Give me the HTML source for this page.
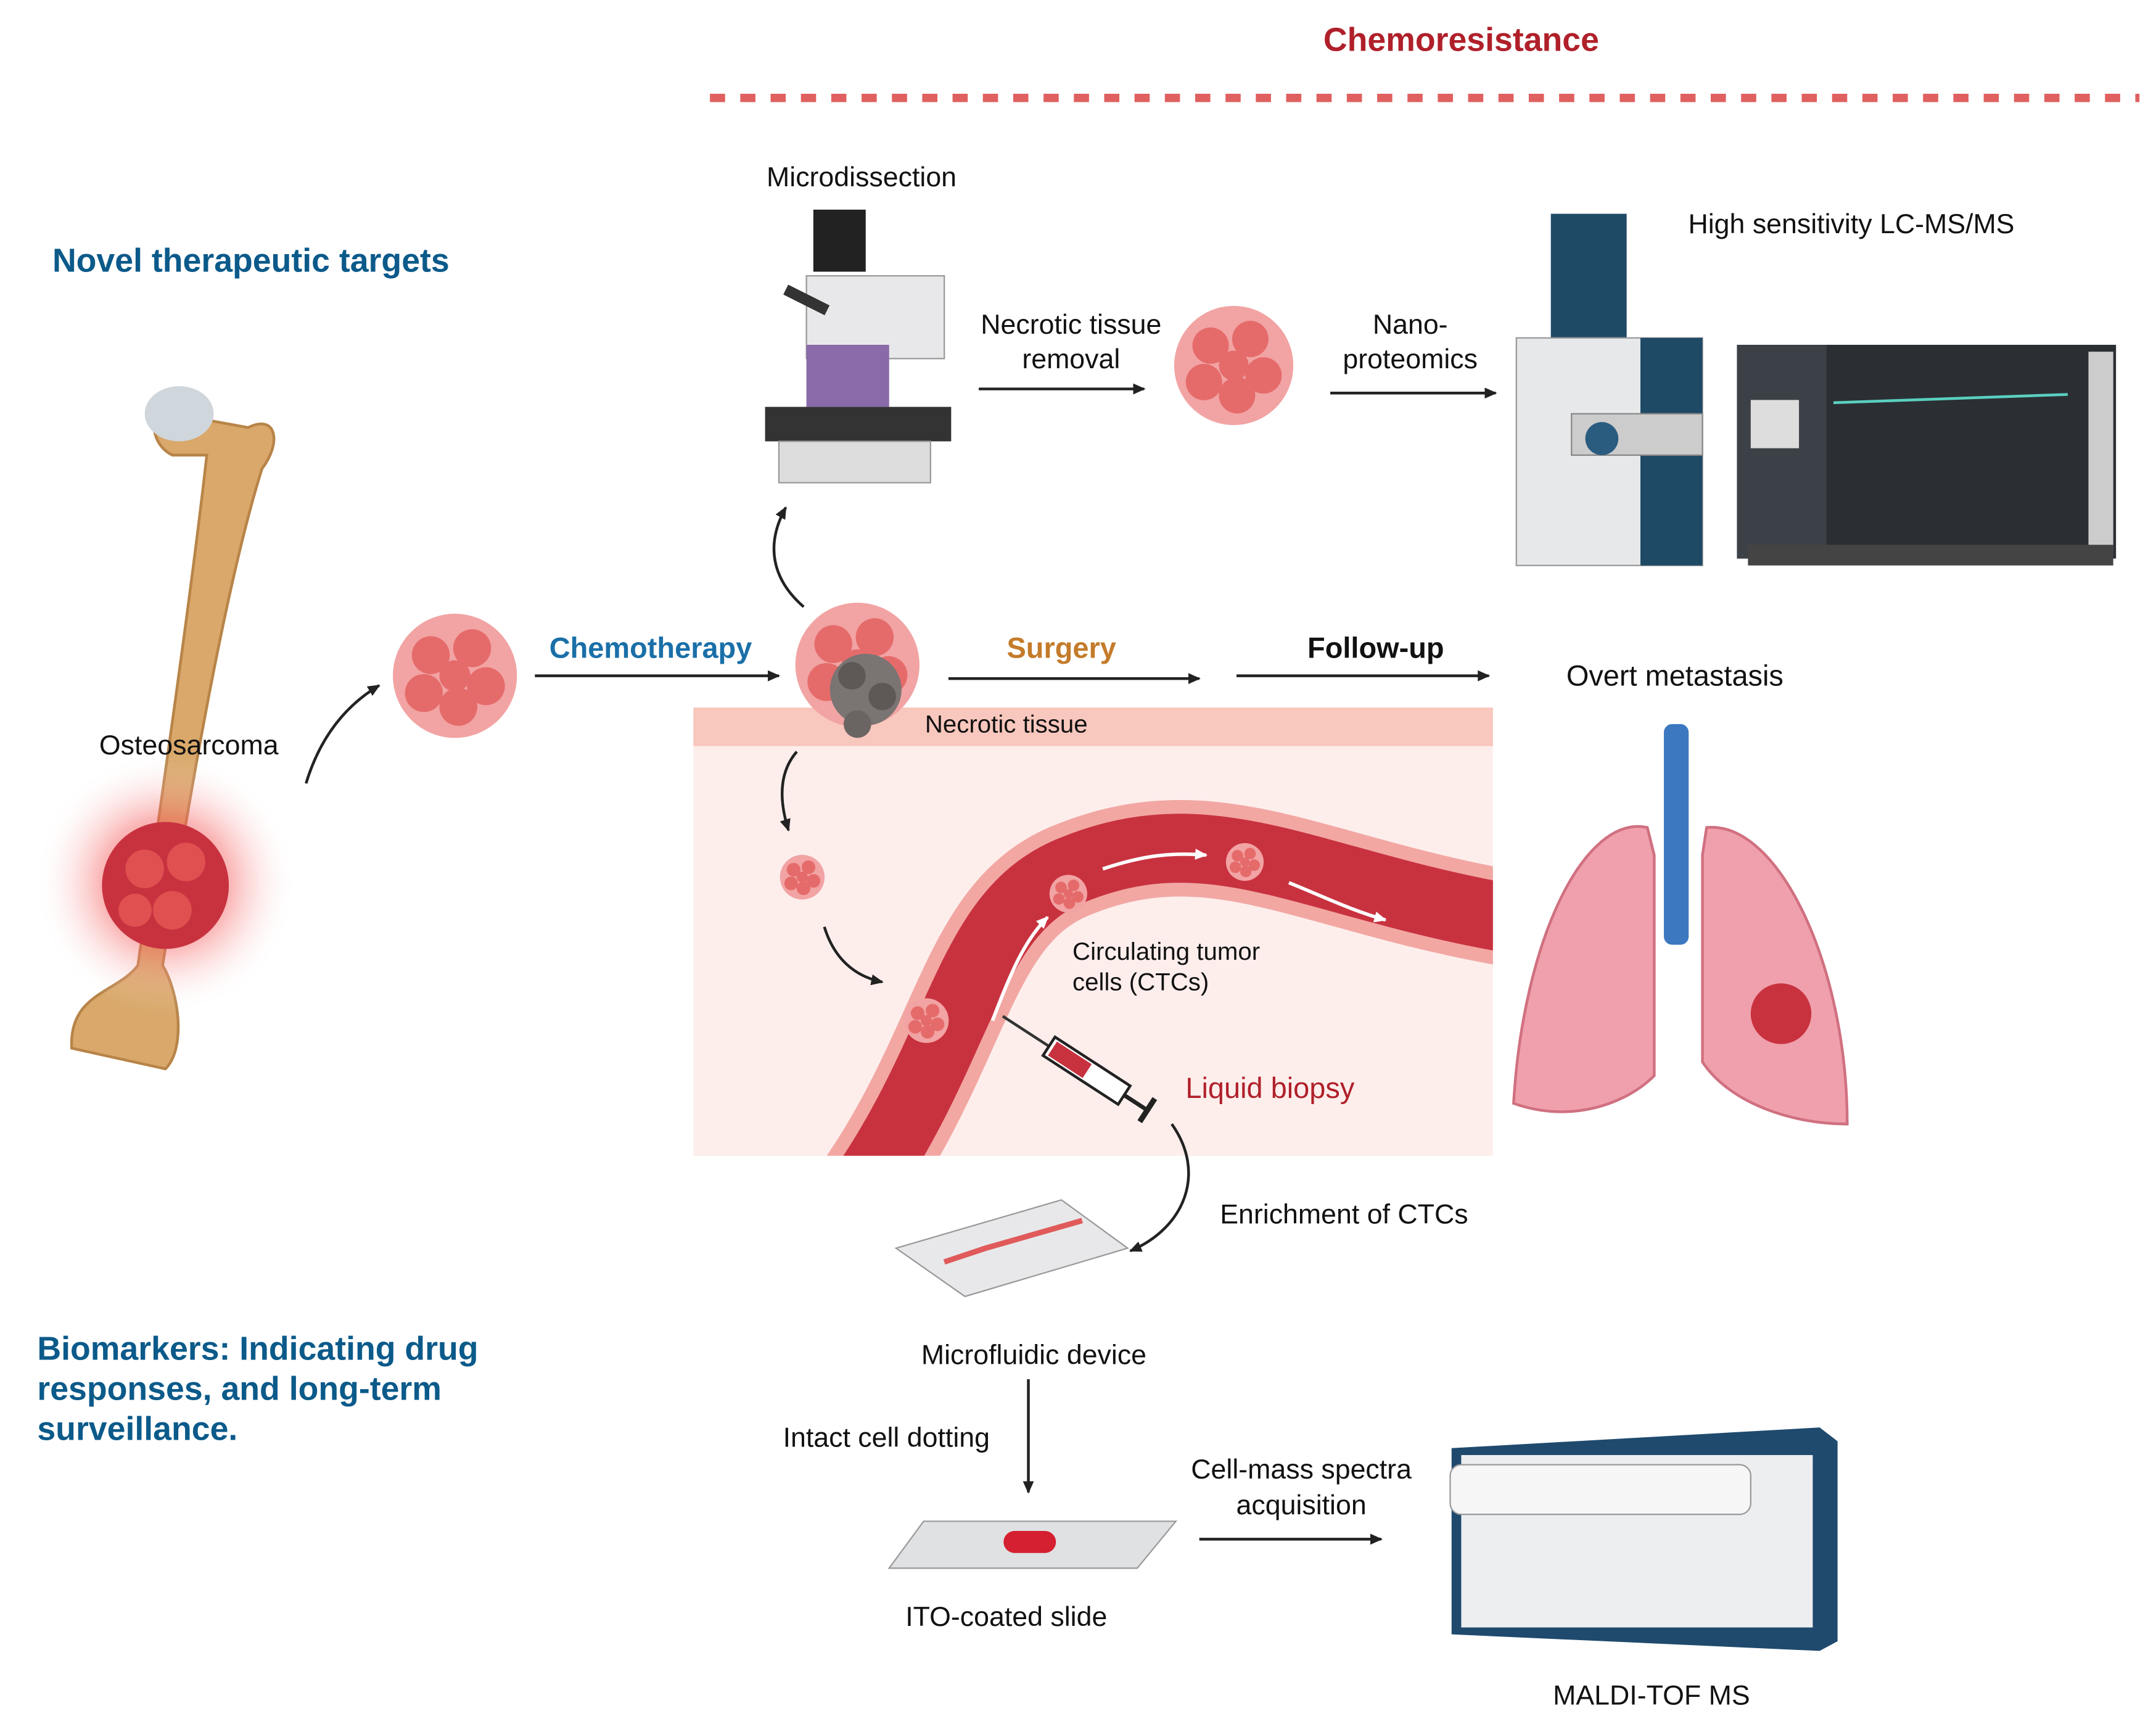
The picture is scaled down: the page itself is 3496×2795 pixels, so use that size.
<!DOCTYPE html>
<html><head><meta charset="utf-8"><style>
html,body{margin:0;padding:0;background:#fff;}
svg{display:block;}
text{font-family:"Liberation Sans",sans-serif;}
</style></head><body>
<svg width="3496" height="2795" viewBox="0 0 1564 1250" preserveAspectRatio="none" xmlns="http://www.w3.org/2000/svg">
<defs>
<marker id="ar" markerWidth="10" markerHeight="10" refX="8" refY="5" orient="auto" markerUnits="userSpaceOnUse"><path d="M0,1 L9,5 L0,9 z" fill="#222"/></marker>
<marker id="aw" markerWidth="10" markerHeight="10" refX="8" refY="5" orient="auto" markerUnits="userSpaceOnUse"><path d="M0,1 L9,5 L0,9 z" fill="#fff"/></marker>
<radialGradient id="glow"><stop offset="0" stop-color="#f03030" stop-opacity="0.8"/><stop offset="0.5" stop-color="#f56060" stop-opacity="0.45"/><stop offset="1" stop-color="#fff" stop-opacity="0"/></radialGradient>
<clipPath id="pk"><rect x="503" y="541" width="580" height="297"/></clipPath>
<g id="cluster"><circle cx="0" cy="0" r="36" fill="#f2a3a3"/><circle cx="-14" cy="-12" r="11" fill="#e56b6b"/><circle cx="10" cy="-16" r="11" fill="#e56b6b"/><circle cx="18" cy="6" r="11" fill="#e56b6b"/><circle cx="-18" cy="10" r="11" fill="#e56b6b"/><circle cx="2" cy="18" r="11" fill="#e56b6b"/><circle cx="0" cy="0" r="9" fill="#e56b6b"/></g>
</defs>

<text x="1060" y="37" font-size="24" font-weight="bold" fill="#b0202a" text-anchor="middle">Chemoresistance</text>
<line x1="515" y1="71" x2="1552" y2="71" stroke="#e06060" stroke-width="6" stroke-dasharray="11,11"/>
<text x="38" y="197" font-size="24" font-weight="bold" fill="#0b5a8a">Novel therapeutic targets</text>
<text x="27" y="986" font-size="24" font-weight="bold" fill="#0b5a8a">Biomarkers: Indicating drug</text>
<text x="27" y="1015" font-size="24" font-weight="bold" fill="#0b5a8a">responses, and long-term</text>
<text x="27" y="1044" font-size="24" font-weight="bold" fill="#0b5a8a">surveillance.</text>

<rect x="503" y="541" width="580" height="297" fill="#fdeeec"/>
<rect x="503" y="513" width="580" height="28" fill="#f8c7bd"/>
<g clip-path="url(#pk)">
<path d="M620,870 C700,760 700,660 780,630 C880,590 950,640 1090,665" stroke="#f2a7a3" stroke-width="70" fill="none"/>
<path d="M620,870 C700,760 700,660 780,630 C880,590 950,640 1090,665" stroke="#c8323f" stroke-width="50" fill="none"/>
</g>
<path d="M720,740 C735,700 745,680 760,665" stroke="#fff" stroke-width="2.5" fill="none" marker-end="url(#aw)"/>
<path d="M800,630 C830,620 850,618 875,620" stroke="#fff" stroke-width="2.5" fill="none" marker-end="url(#aw)"/>
<path d="M935,640 C960,650 980,660 1005,667" stroke="#fff" stroke-width="2.5" fill="none" marker-end="url(#aw)"/>
<use href="#cluster" transform="translate(775,648) scale(0.38)"/>
<use href="#cluster" transform="translate(903,625) scale(0.38)"/>
<use href="#cluster" transform="translate(582,636) scale(0.45)"/>
<use href="#cluster" transform="translate(672,740) scale(0.45)"/>
<text x="778" y="696" font-size="18" fill="#111">Circulating tumor</text>
<text x="778" y="718" font-size="18" fill="#111">cells (CTCs)</text>
<text x="860" y="796" font-size="21" fill="#b0202a">Liquid biopsy</text>
<g transform="translate(740,745) rotate(33)">
<line x1="-15" y1="0" x2="25" y2="0" stroke="#333" stroke-width="2"/>
<rect x="25" y="-8" width="65" height="16" fill="#fff" stroke="#222" stroke-width="2"/>
<rect x="28" y="-6" width="30" height="12" fill="#c8323f"/>
<line x1="90" y1="0" x2="110" y2="0" stroke="#222" stroke-width="3"/>
<line x1="110" y1="-10" x2="110" y2="10" stroke="#222" stroke-width="4"/>
</g>
<text x="730" y="531" font-size="18" fill="#111" text-anchor="middle">Necrotic tissue</text>

<path d="M125,300 C110,290 105,320 125,330 L150,330 C140,420 120,560 100,700 C85,720 50,720 52,760 L120,775 C135,760 130,720 118,700 C140,560 165,420 190,340 C205,320 200,300 180,310 Z" fill="#d9a86a" stroke="#b88448" stroke-width="2"/>
<ellipse cx="130" cy="300" rx="25" ry="20" fill="#cfd6dc"/>
<circle cx="120" cy="640" r="95" fill="url(#glow)"/>
<circle cx="120" cy="642" r="46" fill="#c8323f"/>
<circle cx="105" cy="630" r="14" fill="#e05050"/><circle cx="135" cy="625" r="14" fill="#e05050"/><circle cx="125" cy="660" r="14" fill="#e05050"/><circle cx="98" cy="660" r="12" fill="#e05050"/>
<text x="137" y="547" font-size="20" fill="#111" text-anchor="middle">Osteosarcoma</text>
<path d="M222,568 C232,535 250,512 275,497" stroke="#222" stroke-width="2" fill="none" marker-end="url(#ar)"/>

<use href="#cluster" transform="translate(330,490) scale(1.25)"/>
<text x="472" y="477" font-size="21" font-weight="bold" fill="#1a6fa8" text-anchor="middle">Chemotherapy</text>
<line x1="388" y1="490" x2="565" y2="490" stroke="#222" stroke-width="2" marker-end="url(#ar)"/>
<use href="#cluster" transform="translate(622,482) scale(1.25)"/>
<circle cx="628" cy="500" r="26" fill="#7a7472"/><circle cx="618" cy="490" r="10" fill="#5e5956"/><circle cx="640" cy="505" r="10" fill="#5e5956"/><circle cx="622" cy="525" r="10" fill="#6a6563"/>
<text x="770" y="477" font-size="21" font-weight="bold" fill="#c47b2a" text-anchor="middle">Surgery</text>
<line x1="688" y1="492" x2="870" y2="492" stroke="#222" stroke-width="2" marker-end="url(#ar)"/>
<text x="998" y="477" font-size="21" font-weight="bold" fill="#111" text-anchor="middle">Follow-up</text>
<line x1="897" y1="490" x2="1080" y2="490" stroke="#222" stroke-width="2" marker-end="url(#ar)"/>
<text x="1215" y="497" font-size="21" fill="#111" text-anchor="middle">Overt metastasis</text>
<path d="M583,440 C560,420 555,395 570,368" stroke="#222" stroke-width="2" fill="none" marker-end="url(#ar)"/>
<path d="M578,545 C565,560 565,580 572,602" stroke="#222" stroke-width="2" fill="none" marker-end="url(#ar)"/>
<path d="M598,672 C605,695 620,708 640,712" stroke="#222" stroke-width="2" fill="none" marker-end="url(#ar)"/>

<text x="625" y="135" font-size="20" fill="#111" text-anchor="middle">Microdissection</text>
<rect x="590" y="152" width="38" height="45" fill="#222"/>
<rect x="585" y="200" width="100" height="60" fill="#e8e8ea" stroke="#999"/>
<rect x="585" y="250" width="60" height="45" fill="#8a6aa8"/>
<rect x="555" y="295" width="135" height="25" fill="#333"/>
<rect x="565" y="320" width="110" height="30" fill="#ddd" stroke="#999"/>
<line x1="570" y1="210" x2="600" y2="225" stroke="#333" stroke-width="8"/>
<text x="777" y="242" font-size="20" fill="#111" text-anchor="middle">Necrotic tissue</text>
<text x="777" y="267" font-size="20" fill="#111" text-anchor="middle">removal</text>
<line x1="710" y1="282" x2="830" y2="282" stroke="#222" stroke-width="2" marker-end="url(#ar)"/>
<use href="#cluster" transform="translate(895,265) scale(1.2)"/>
<text x="1023" y="242" font-size="20" fill="#111" text-anchor="middle">Nano-</text>
<text x="1023" y="267" font-size="20" fill="#111" text-anchor="middle">proteomics</text>
<line x1="965" y1="285" x2="1085" y2="285" stroke="#222" stroke-width="2" marker-end="url(#ar)"/>
<text x="1343" y="169" font-size="20" fill="#111" text-anchor="middle">High sensitivity LC-MS/MS</text>
<rect x="1125" y="155" width="55" height="95" fill="#1f4a66"/>
<rect x="1100" y="245" width="135" height="165" fill="#e6e8ea" stroke="#999"/>
<rect x="1190" y="245" width="45" height="165" fill="#1f4a66"/>
<rect x="1140" y="300" width="95" height="30" fill="#ccc" stroke="#888"/>
<circle cx="1162" cy="318" r="12" fill="#2a5c80"/>
<rect x="1260" y="250" width="275" height="155" fill="#2b2f34"/>
<rect x="1260" y="250" width="65" height="155" fill="#3c4147"/>
<rect x="1270" y="290" width="35" height="35" fill="#ddd"/>
<line x1="1330" y1="292" x2="1500" y2="286" stroke="#5ad0c0" stroke-width="2"/>
<rect x="1515" y="255" width="18" height="145" fill="#ccc"/>
<rect x="1268" y="395" width="265" height="15" fill="#444"/>

<path d="M1195,600 C1150,590 1105,680 1098,800 C1140,815 1180,800 1200,780 L1200,620 Z" fill="#f0a0ac" stroke="#d07080" stroke-width="2"/>
<path d="M1238,600 C1290,595 1340,700 1340,815 C1300,815 1255,800 1235,770 L1235,620 Z" fill="#f0a0ac" stroke="#d07080" stroke-width="2"/>
<rect x="1207" y="525" width="18" height="160" rx="6" fill="#3b78c0"/>
<circle cx="1292" cy="735" r="22" fill="#c8323f"/>

<path d="M850,815 C875,850 860,890 820,907" stroke="#222" stroke-width="2" fill="none" marker-end="url(#ar)"/>
<text x="975" y="887" font-size="20" fill="#111" text-anchor="middle">Enrichment of CTCs</text>
<path d="M650,905 L770,870 L818,905 L700,940 Z" fill="#e8e8ea" stroke="#999"/>
<path d="M685,915 L715,905 L750,895 L785,885" stroke="#e05a5a" stroke-width="4" fill="none"/>
<text x="750" y="989" font-size="20" fill="#111" text-anchor="middle">Microfluidic device</text>
<text x="643" y="1049" font-size="20" fill="#111" text-anchor="middle">Intact cell dotting</text>
<line x1="746" y1="1000" x2="746" y2="1082" stroke="#222" stroke-width="2" marker-end="url(#ar)"/>
<path d="M670,1103 L853,1103 L825,1137 L645,1137 Z" fill="#dfe1e3" stroke="#999"/>
<rect x="728" y="1110" width="38" height="16" rx="8" fill="#d42030"/>
<text x="730" y="1179" font-size="20" fill="#111" text-anchor="middle">ITO-coated slide</text>
<text x="944" y="1072" font-size="20" fill="#111" text-anchor="middle">Cell-mass spectra</text>
<text x="944" y="1098" font-size="20" fill="#111" text-anchor="middle">acquisition</text>
<line x1="870" y1="1116" x2="1002" y2="1116" stroke="#222" stroke-width="2" marker-end="url(#ar)"/>
<path d="M1053,1050 L1320,1035 L1333,1045 L1333,1190 L1320,1197 L1053,1185 Z" fill="#1f4a6e"/>
<rect x="1060" y="1055" width="255" height="125" fill="#eceef0"/>
<rect x="1052" y="1062" width="218" height="36" rx="8" fill="#f6f6f6" stroke="#999"/>
<text x="1198" y="1236" font-size="20" fill="#111" text-anchor="middle">MALDI-TOF MS</text>
</svg>
</body></html>
